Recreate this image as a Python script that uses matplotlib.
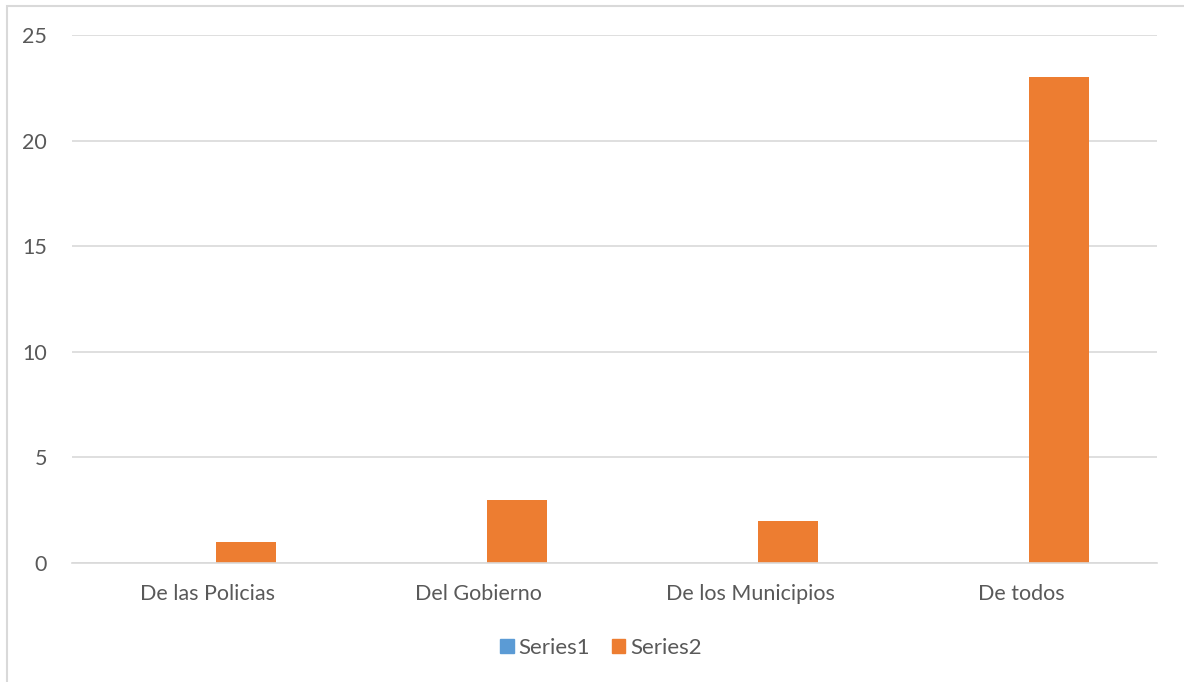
import matplotlib
matplotlib.use("Agg")
import numpy as np
import matplotlib.pyplot as plt
from matplotlib.patches import Rectangle, Patch

categories = ["De las Policias", "Del Gobierno", "De los Municipios", "De todos"]
series1 = [0, 0, 0, 0]
series2 = [1, 3, 2, 23]
yticks = [0, 5, 10, 15, 20, 25]

blue = "#5b9bd5"
orange = "#ed7d31"
grid_c = "#d9d9d9"
text_c = "#595959"

plt.rcParams['font.family'] = ['Lato', 'DejaVu Sans']

W, H = 1184, 682
fig = plt.figure(figsize=(W / 100, H / 100), dpi=100)
ax = fig.add_axes([72 / W, 1 - 563 / H, (1157 - 72) / W, (563 - 35) / H])

x = np.arange(len(categories))
bw = 0.221
off = 0.140
ax.bar(x - off, series1, bw, color=blue, label="Series1")
ax.bar(x + off, series2, bw, color=orange, label="Series2")

ax.set_xlim(-0.5, len(categories) - 0.5)
ax.set_ylim(0, 25)
ax.set_yticks(yticks)
ax.set_xticks(x)
ax.set_xticklabels(categories)
ax.yaxis.grid(True, color=grid_c, linewidth=1.2)
ax.set_axisbelow(True)
for s in ["top", "right", "left"]:
    ax.spines[s].set_visible(False)
ax.spines["bottom"].set_color(grid_c)
ax.spines["bottom"].set_linewidth(1.2)
ax.tick_params(axis="both", length=0, labelsize=15.5, colors=text_c)
ax.tick_params(axis="y", pad=18)
ax.tick_params(axis="x", pad=15)

handles = [Patch(color=blue, label="Series1"), Patch(color=orange, label="Series2")]
fig.legend(handles=handles, loc="center", bbox_to_anchor=(0.5 + 9 / W, 1 - 648 / H), ncol=2,
           frameon=False, fontsize=16, handlelength=0.6, handleheight=0.6,
           handletextpad=0.2, columnspacing=1.0, labelcolor=text_c)

# chart border (only left/top edges are inside the image)
fig.patches.append(Rectangle((7 / W, -0.1), 1.2, (H - 6) / H + 0.1,
                             transform=fig.transFigure, fill=False,
                             edgecolor=grid_c, linewidth=1.5))

fig.savefig("out.png", dpi=100)
